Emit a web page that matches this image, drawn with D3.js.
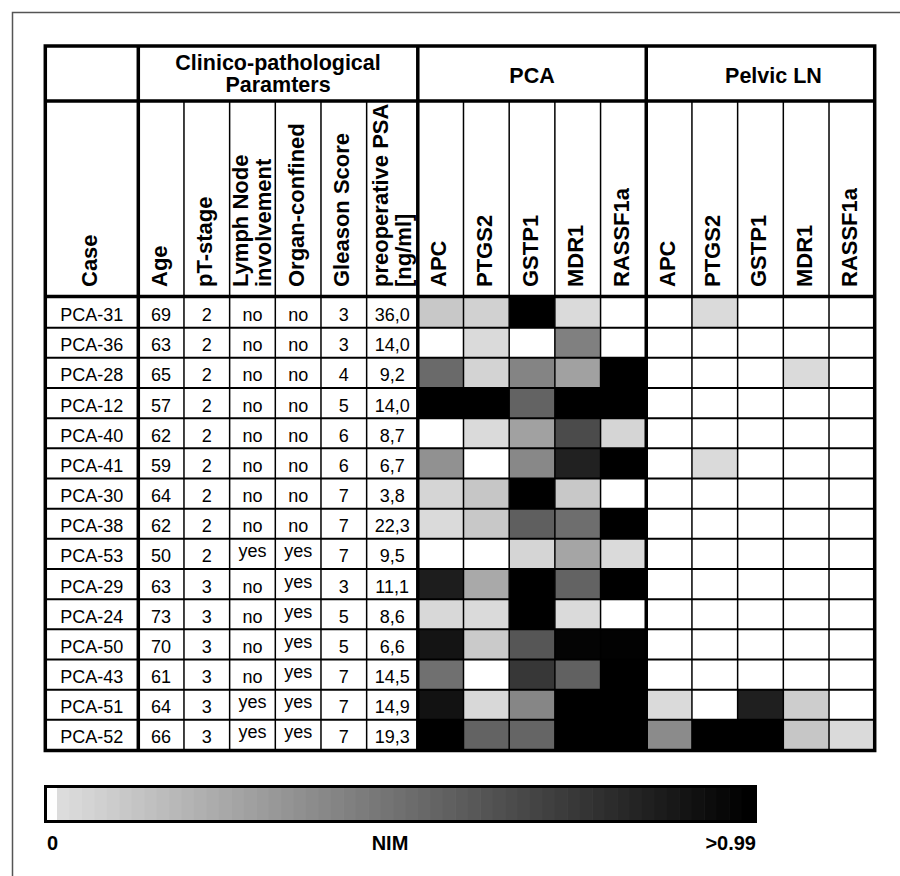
<!DOCTYPE html>
<html>
<head>
<meta charset="utf-8">
<script src="https://cdn.jsdelivr.net/npm/d3@7"></script>
<style>
  body { margin: 0; background: #fff; }
  svg { display: block; font-family: "Liberation Sans", Arial, Helvetica, sans-serif; }
</style>
</head>
<body>
<div class="chart"></div>
<script>
// Table data
var cases = ["PCA-31", "PCA-36", "PCA-28", "PCA-12", "PCA-40", "PCA-41", "PCA-30", "PCA-38",
  "PCA-53", "PCA-29", "PCA-24", "PCA-50", "PCA-43", "PCA-51", "PCA-52"];
var ages = [69, 63, 65, 57, 62, 59, 64, 62, 50, 63, 73, 70, 61, 64, 66];
var ptStage = [2, 2, 2, 2, 2, 2, 2, 2, 2, 3, 3, 3, 3, 3, 3];
var lymphNode = ["no", "no", "no", "no", "no", "no", "no", "no", "yes", "no", "no", "no", "no", "yes", "yes"];
var organConfined = ["no", "no", "no", "no", "no", "no", "no", "no", "yes", "yes", "yes", "yes", "yes", "yes", "yes"];
var gleason = [3, 3, 4, 5, 6, 6, 7, 7, 7, 3, 5, 5, 7, 7, 7];
var psa = ["36,0", "14,0", "9,2", "14,0", "8,7", "6,7", "3,8", "22,3", "9,5", "11,1", "8,6", "6,6", "14,5", "14,9", "19,3"];

var clinHeaders = [["Age"], ["pT-stage"], ["Lymph Node", "involvement"], ["Organ-confined"],
  ["Gleason Score"], ["preoperative PSA", "[ng/ml]"]];
var genes = ["APC", "PTGS2", "GSTP1", "MDR1", "RASSF1a"];
var groupHeaders = [["Clinico-pathological", "Paramters"], ["PCA"], ["Pelvic LN"]];

// NIM values (0 = unmethylated, 1 = >0.99), order of genes
var pcaNim = [
  [0.09, 0.05, 1.00, 0.01, 0.00],
  [0.00, 0.01, 0.00, 0.42, 0.00],
  [0.52, 0.04, 0.40, 0.27, 1.00],
  [1.00, 1.00, 0.55, 1.00, 1.00],
  [0.00, 0.01, 0.27, 0.66, 0.03],
  [0.34, 0.00, 0.38, 0.85, 1.00],
  [0.03, 0.10, 1.00, 0.09, 0.00],
  [0.01, 0.09, 0.57, 0.50, 1.00],
  [0.00, 0.00, 0.03, 0.25, 0.01],
  [0.87, 0.23, 1.00, 0.55, 1.00],
  [0.02, 0.01, 1.00, 0.01, 0.00],
  [0.91, 0.08, 0.61, 0.98, 0.99],
  [0.49, 0.00, 0.75, 0.56, 1.00],
  [0.92, 0.02, 0.39, 1.00, 1.00],
  [1.00, 0.55, 0.54, 1.00, 1.00]
];
var lnNim = [
  [0.00, 0.01, 0.00, 0.00, 0.00],
  [0.00, 0.00, 0.00, 0.00, 0.00],
  [0.00, 0.00, 0.00, 0.01, 0.00],
  [0.00, 0.00, 0.00, 0.00, 0.00],
  [0.00, 0.00, 0.00, 0.00, 0.00],
  [0.00, 0.01, 0.00, 0.00, 0.00],
  [0.00, 0.00, 0.00, 0.00, 0.00],
  [0.00, 0.00, 0.00, 0.00, 0.00],
  [0.00, 0.00, 0.00, 0.00, 0.00],
  [0.00, 0.00, 0.00, 0.00, 0.00],
  [0.00, 0.00, 0.00, 0.00, 0.00],
  [0.00, 0.00, 0.00, 0.00, 0.00],
  [0.00, 0.00, 0.00, 0.00, 0.00],
  [0.01, 0.00, 0.86, 0.07, 0.00],
  [0.37, 1.00, 1.00, 0.10, 0.01]
];
var legendLabels = ["0", "NIM", ">0.99"];

// Layout
var svgWidth = 900;
var svgHeight = 876;
var tableLeft = 45.3, caseRight = 138.3, clinRight = 417.8, tableRight = 874.7;
var topY = 46, groupY = 101, headY = 296.5, bottomY = 750.5;
var clinUnits = [1, 1, 1, 1, 1, 1.12];

var svg = d3.select(".chart")
  .append("svg")
  .attr("width", svgWidth)
  .attr("height", svgHeight);

// outer page frame
svg.append("rect")
  .attr("x", 12.5).attr("y", 12.5)
  .attr("width", 920).attr("height", 920)
  .attr("fill", "none")
  .attr("stroke", "#555")
  .attr("stroke-width", 1.5);

// Scales
var rowY = d3.scaleBand().domain(cases).range([297.5, 750]);

var clinCum = [0];
clinUnits.forEach(function(u, i) { clinCum.push(clinCum[i] + u); });
var clinX = d3.scaleLinear().domain([0, d3.sum(clinUnits)]).range([caseRight, clinRight]);

var geneCols = d3.range(genes.length * 2);
var geneX = d3.scaleBand().domain(geneCols).range([clinRight, tableRight]);

var grayScale = d3.scaleLinear().domain([0, 1]).range([220, 0]).clamp(true);
function nimColor(v) {
  if (v <= 0) return "#ffffff";
  var g = Math.round(grayScale(v));
  return d3.rgb(g, g, g).toString();
}

// Heat cells
var cellData = [];
cases.forEach(function(c, i) {
  pcaNim[i].forEach(function(v, j) { cellData.push({ c: c, col: j, v: v }); });
  lnNim[i].forEach(function(v, j) { cellData.push({ c: c, col: j + genes.length, v: v }); });
});

svg.append("g").selectAll("rect")
  .data(cellData)
  .enter()
  .append("rect")
  .attr("x", d => geneX(d.col))
  .attr("y", d => rowY(d.c))
  .attr("width", geneX.bandwidth())
  .attr("height", rowY.bandwidth())
  .attr("fill", d => nimColor(d.v));

// Grid lines
var grid = svg.append("g").attr("stroke", "#000").attr("fill", "none");

// row separators
cases.slice(1).forEach(function(c) {
  grid.append("line")
    .attr("x1", tableLeft).attr("x2", tableRight)
    .attr("y1", rowY(c)).attr("y2", rowY(c))
    .attr("stroke-width", 2);
});

// thin column separators
var thinXs = [];
for (var k = 1; k < clinUnits.length; k++) thinXs.push(clinX(clinCum[k]));
geneCols.forEach(function(j) {
  if (j % genes.length !== 0) thinXs.push(geneX(j));
});
thinXs.forEach(function(x) {
  grid.append("line")
    .attr("x1", x).attr("x2", x)
    .attr("y1", groupY).attr("y2", bottomY)
    .attr("stroke-width", 1.5);
});

// thick separators
[caseRight, clinRight, geneX(genes.length)].forEach(function(x) {
  grid.append("line")
    .attr("x1", x).attr("x2", x)
    .attr("y1", topY).attr("y2", bottomY)
    .attr("stroke-width", 3.5);
});
[groupY, headY].forEach(function(y) {
  grid.append("line")
    .attr("x1", tableLeft).attr("x2", tableRight)
    .attr("y1", y).attr("y2", y)
    .attr("stroke-width", 3.5);
});
grid.append("rect")
  .attr("x", tableLeft).attr("y", topY)
  .attr("width", tableRight - tableLeft)
  .attr("height", bottomY - topY)
  .attr("stroke-width", 3.5);

// Group headers
var groupCenters = [
  (caseRight + clinRight) / 2,
  (clinRight + geneX(genes.length)) / 2,
  (geneX(genes.length) + tableRight) / 2 + 13
];
groupHeaders.forEach(function(lines, i) {
  var t = svg.append("text")
    .attr("text-anchor", "middle")
    .attr("font-size", 21.5)
    .attr("font-weight", "bold");
  var y0 = lines.length === 2 ? 69.5 : 82.5;
  lines.forEach(function(l, n) {
    t.append("tspan").attr("x", groupCenters[i]).attr("y", y0 + n * 22.5).text(l);
  });
});

// Column headers (rotated)
var colHeaders = [{ cx: (tableLeft + caseRight) / 2, lines: ["Case"] }];
clinHeaders.forEach(function(lines, i) {
  colHeaders.push({ cx: (clinX(clinCum[i]) + clinX(clinCum[i + 1])) / 2, lines: lines });
});
geneCols.forEach(function(j) {
  colHeaders.push({ cx: geneX(j) + geneX.bandwidth() / 2, lines: [genes[j % genes.length]] });
});

colHeaders.forEach(function(h) {
  h.lines.forEach(function(l, n) {
    var bx = h.lines.length === 2 ? h.cx - 4.5 + n * 23.5 : h.cx + 5.5;
    svg.append("text")
      .attr("transform", `translate(${bx}, 287) rotate(-90)`)
      .attr("text-anchor", "start")
      .attr("font-size", 22)
      .attr("font-weight", "bold")
      .text(l);
  });
});

// Clinical values
var clinValues = [ages, ptStage, lymphNode, organConfined, gleason, psa];
var body = svg.append("g")
  .attr("font-size", 18)
  .attr("text-anchor", "middle")
  .attr("fill", "#000");

cases.forEach(function(c, i) {
  var base = rowY(c) + 23.5;
  body.append("text")
    .attr("x", (tableLeft + caseRight) / 2)
    .attr("y", base)
    .text(c);
  clinValues.forEach(function(arr, k) {
    var v = arr[i];
    body.append("text")
      .attr("x", (clinX(clinCum[k]) + clinX(clinCum[k + 1])) / 2)
      .attr("y", v === "yes" ? base - 5 : base)
      .text(v);
  });
});

// Legend
var legendX = d3.scaleLinear().domain([0, 1]).range([57, 754]);
var nSteps = 56;
var steps = d3.range(nSteps);
svg.append("g").selectAll("rect")
  .data(steps)
  .enter()
  .append("rect")
  .attr("x", d => legendX(d / nSteps))
  .attr("y", 787)
  .attr("width", legendX(1 / nSteps) - legendX(0) + 0.6)
  .attr("height", 34)
  .attr("fill", d => {
    var g = Math.round(220 * (1 - d / (nSteps - 1)));
    return d3.rgb(g, g, g).toString();
  });

svg.append("rect")
  .attr("x", 45.5).attr("y", 786.5)
  .attr("width", 710).attr("height", 35)
  .attr("fill", "none")
  .attr("stroke", "#000")
  .attr("stroke-width", 3);

var legendPos = [{ x: 47, a: "start" }, { x: 390, a: "middle" }, { x: 756, a: "end" }];
legendLabels.forEach(function(l, i) {
  svg.append("text")
    .attr("x", legendPos[i].x)
    .attr("y", 850)
    .attr("text-anchor", legendPos[i].a)
    .attr("font-size", 20)
    .attr("font-weight", "bold")
    .text(l);
});
</script>
</body>
</html>
